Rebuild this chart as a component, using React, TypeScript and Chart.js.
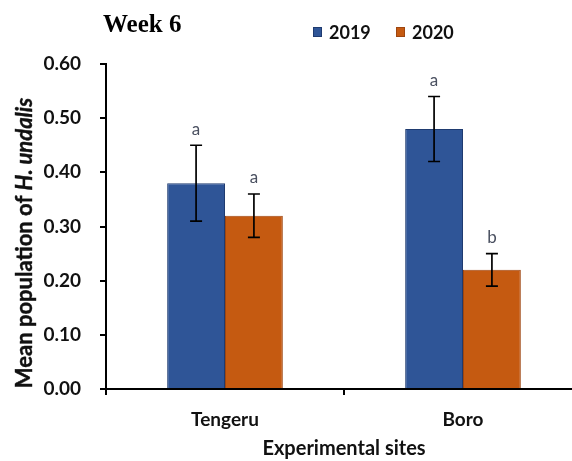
import React, { useEffect, useRef } from "react";
import { Chart, registerables } from "chart.js";

Chart.register(...registerables);

const categories = ["Tengeru", "Boro"];
const seriesLabels = ["2019", "2020"];
const values2019 = [0.38, 0.48];
const values2020 = [0.32, 0.22];
const upper2019 = [0.45, 0.54];
const lower2019 = [0.31, 0.42];
const upper2020 = [0.36, 0.25];
const lower2020 = [0.28, 0.19];
const letters2019 = ["a", "a"];
const letters2020 = ["a", "b"];
const yTicks = [0, 0.1, 0.2, 0.3, 0.4, 0.5, 0.6];

const BLUE = "#2F5597";
const BLUE_BORDER = "#1F3B70";
const ORANGE = "#C55A11";
const ORANGE_BORDER = "#9E4610";
const FONT = "Lato, 'Open Sans', sans-serif";

const errUpper = [upper2019, upper2020];
const errLower = [lower2019, lower2020];
const letters = [letters2019, letters2020];

const overlayPlugin = {
  id: "overlay",
  afterDatasetsDraw(chart: any) {
    const ctx = chart.ctx;
    const yScale = chart.scales.y;
    ctx.save();
    chart.data.datasets.forEach((ds: any, di: number) => {
      const meta = chart.getDatasetMeta(di);
      meta.data.forEach((bar: any, i: number) => {
        const x = bar.x;
        const yU = yScale.getPixelForValue(errUpper[di][i]);
        const yL = yScale.getPixelForValue(errLower[di][i]);
        ctx.strokeStyle = "#000";
        ctx.lineWidth = 1.7;
        ctx.beginPath();
        ctx.moveTo(x, yU);
        ctx.lineTo(x, yL);
        ctx.moveTo(x - 6, yU);
        ctx.lineTo(x + 6, yU);
        ctx.moveTo(x - 6, yL);
        ctx.lineTo(x + 6, yL);
        ctx.stroke();
        ctx.fillStyle = "#4a5060";
        ctx.font = "17px " + FONT;
        ctx.textAlign = "center";
        ctx.textBaseline = "middle";
        ctx.fillText(letters[di][i], x, yU - 16);
      });
    });
    ctx.restore();
  },
  afterDraw(chart: any) {
    const ctx = chart.ctx;
    ctx.save();
    // title
    ctx.fillStyle = "#000";
    ctx.font = "bold 25px 'Liberation Serif', 'Times New Roman', serif";
    ctx.textAlign = "left";
    ctx.textBaseline = "middle";
    ctx.fillText("Week 6", 103, 26);
    // legend
    const legendItems = [
      { x: 313, label: chart.data.datasets[0].label, fill: BLUE, border: BLUE_BORDER },
      { x: 396, label: chart.data.datasets[1].label, fill: ORANGE, border: ORANGE_BORDER },
    ];
    ctx.font = "bold 18px " + FONT;
    legendItems.forEach((it) => {
      ctx.fillStyle = it.fill;
      ctx.strokeStyle = it.border;
      ctx.lineWidth = 1;
      ctx.fillRect(it.x, 27, 9, 10);
      ctx.strokeRect(it.x + 0.5, 27.5, 8, 9);
      ctx.fillStyle = "#111";
      ctx.fillText(it.label, it.x + 16, 33);
    });
    ctx.restore();

    // y title with italics
    ctx.save();
    const part1 = "Mean population of ";
    const part2 = "H. undalis";
    const f1 = "normal bold 22px Lato";
    const f2 = "italic bold 22px Lato";
    ctx.font = f1;
    const w1 = ctx.measureText(part1).width;
    ctx.font = f2;
    const w2 = ctx.measureText(part2).width;
    const total = w1 + w2;
    ctx.translate(25, 243);
    ctx.rotate(-Math.PI / 2);
    ctx.textBaseline = "middle";
    ctx.textAlign = "left";
    ctx.fillStyle = "#111";
    ctx.strokeStyle = "#111";
    ctx.lineWidth = 0.4;
    ctx.font = f1;
    ctx.fillText(part1, -total / 2, 0);
    ctx.strokeText(part1, -total / 2, 0);
    ctx.font = f2;
    ctx.fillText(part2, -total / 2 + w1, 0);
    ctx.strokeText(part2, -total / 2 + w1, 0);
    ctx.restore();
  },
};

export default function App() {
  const ref = useRef<HTMLCanvasElement | null>(null);
  useEffect(() => {
    document.body.style.margin = "0";
    document.body.style.overflow = "hidden";
    const canvas = ref.current;
    if (!canvas) return;
    const chart = new Chart(canvas, {
      type: "bar",
      data: {
        labels: categories,
        datasets: [
          {
            label: seriesLabels[0],
            data: values2019,
            backgroundColor: BLUE,
            borderColor: BLUE_BORDER,
            borderWidth: 1,
            categoryPercentage: 0.486,
            barPercentage: 1,
          },
          {
            label: seriesLabels[1],
            data: values2020,
            backgroundColor: ORANGE,
            borderColor: ORANGE_BORDER,
            borderWidth: 1,
            categoryPercentage: 0.486,
            barPercentage: 1,
          },
        ],
      },
      options: {
        responsive: false,
        animation: false,
        layout: { padding: { top: 64, right: 0, left: 0, bottom: 0 } },
        plugins: {
          legend: { display: false },
          title: { display: false },
          tooltip: { enabled: false },
        },
        scales: {
          x: {
            offset: true,
            grid: {
              offset: true,
              drawOnChartArea: false,
              drawTicks: true,
              tickLength: 6,
              color: "#000",
              lineWidth: 2,
            },
            border: { display: true, color: "#000", width: 2 },
            ticks: {
              color: "#111",
              font: { family: FONT, size: 19, weight: "bold" },
              padding: 13,
            },
            title: {
              display: true,
              text: "Experimental sites",
              color: "#111",
              font: { family: FONT, size: 20, weight: "bold" },
              padding: { top: 0, bottom: 0 },
            },
            afterFit(scale: any) {
              scale.height = 72;
            },
          },
          y: {
            min: 0,
            max: 0.6,
            afterBuildTicks(scale: any) {
              scale.ticks = yTicks.map((v) => ({ value: v }));
            },
            grid: {
              drawOnChartArea: false,
              drawTicks: true,
              tickLength: 6,
              color: "#000",
              lineWidth: 2,
            },
            border: { display: true, color: "#000", width: 2 },
            ticks: {
              color: "#111",
              font: { family: FONT, size: 19, weight: "bold" },
              padding: 19,
              callback: (v: any) => Number(v).toFixed(2),
            },
            afterFit(scale: any) {
              scale.width = 106;
            },
          },
        },
      },
      plugins: [overlayPlugin],
    });
    return () => chart.destroy();
  }, []);
  return (
    <div style={{ width: 572, height: 461, overflow: "hidden", background: "#fff" }}>
      <canvas ref={ref} width={582} height={461} style={{ display: "block" }} />
    </div>
  );
}
